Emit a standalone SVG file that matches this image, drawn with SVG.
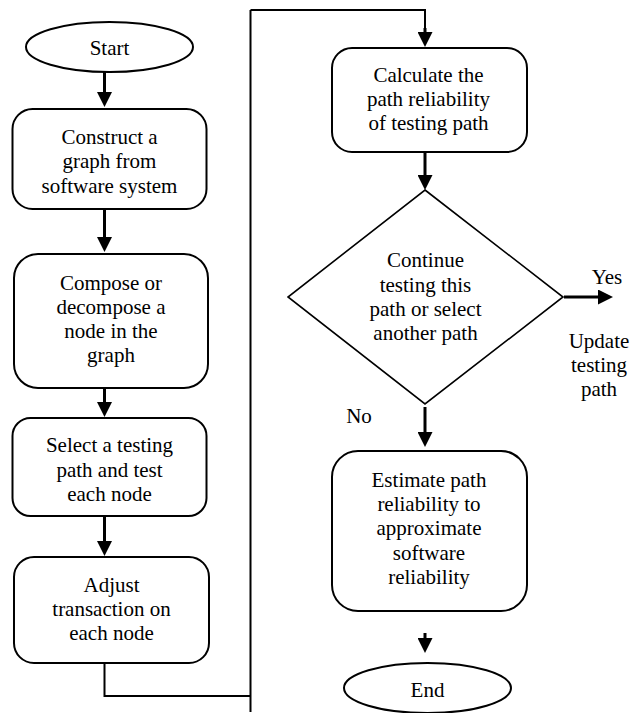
<svg xmlns="http://www.w3.org/2000/svg" width="642" height="713" viewBox="0 0 642 713">
  <style>
    .shape { fill: #fff; stroke: #000; stroke-width: 2; }
    .thin { fill: #fff; stroke: #000; stroke-width: 1.6; }
    .flow { fill: none; stroke: #000; stroke-width: 3; }
    .wire { fill: none; stroke: #000; stroke-width: 2; }
    text { font-family: "Liberation Serif", Tinos, "Times New Roman", Times, "DejaVu Serif", serif; font-size: 21px; fill: #000; text-anchor: middle; }
  </style>
  <defs>
    <marker id="arrow" viewBox="0 0 15 15" markerUnits="userSpaceOnUse" markerWidth="15" markerHeight="15" refX="7" refY="7.5" orient="auto">
      <path d="M0,0 L15,7.5 L0,15 z" fill="#000"/>
    </marker>
  </defs>

  <!-- connectors -->
  <g id="connectors">
    <line class="flow" x1="104.5" y1="72" x2="104.5" y2="99" marker-end="url(#arrow)"/>
    <line class="flow" x1="104.5" y1="209" x2="104.5" y2="244" marker-end="url(#arrow)"/>
    <line class="flow" x1="104.5" y1="388" x2="104.5" y2="409" marker-end="url(#arrow)"/>
    <line class="flow" x1="104.5" y1="516" x2="104.5" y2="548" marker-end="url(#arrow)"/>
    <!-- loop from the left column to the right column -->
    <polyline class="wire" points="104.5,663 104.5,696 250.5,696"/>
    <line class="wire" x1="250.5" y1="712" x2="250.5" y2="10"/>
    <polyline class="wire" points="250.5,10 425,10 425,30"/>
    <line class="flow" x1="425" y1="28" x2="425" y2="39" marker-end="url(#arrow)"/>
    <line class="flow" x1="425" y1="152" x2="425" y2="182" marker-end="url(#arrow)"/>
    <line class="flow" x1="564" y1="297" x2="605" y2="297" marker-end="url(#arrow)"/>
    <line class="flow" x1="425" y1="407" x2="425" y2="439" marker-end="url(#arrow)"/>
    <line class="flow" x1="425" y1="633" x2="425" y2="645" marker-end="url(#arrow)"/>
    <text x="607" y="284">Yes</text>
    <text x="359" y="423">No</text>
  </g>

  <g id="start">
    <ellipse class="shape" cx="109.5" cy="47" rx="83.5" ry="25"/>
    <text x="109.5" y="55">Start</text>
  </g>

  <g id="construct">
    <rect class="shape" x="12.5" y="109" width="194" height="100" rx="20"/>
    <text x="109.5" y="144">Construct a</text>
    <text x="109.5" y="168">graph from</text>
    <text x="109.5" y="193">software system</text>
  </g>

  <g id="compose">
    <rect class="shape" x="14" y="254" width="194" height="134" rx="24"/>
    <text x="111" y="290">Compose or</text>
    <text x="111" y="314">decompose a</text>
    <text x="111" y="338">node in the</text>
    <text x="111" y="362">graph</text>
  </g>

  <g id="select">
    <rect class="shape" x="12.5" y="418" width="194" height="98" rx="18"/>
    <text x="109.5" y="452">Select a testing</text>
    <text x="109.5" y="477">path and test</text>
    <text x="109.5" y="501">each node</text>
  </g>

  <g id="adjust">
    <rect class="shape" x="14" y="557" width="195" height="106" rx="20"/>
    <text x="111.5" y="592">Adjust</text>
    <text x="111.5" y="616">transaction on</text>
    <text x="111.5" y="640">each node</text>
  </g>

  <g id="calculate">
    <rect class="shape" x="332" y="48" width="195" height="104" rx="20"/>
    <text x="428.5" y="82">Calculate the</text>
    <text x="428.5" y="106">path reliability</text>
    <text x="428.5" y="130">of testing path</text>
  </g>

  <g id="decision">
    <polygon class="thin" points="425,190 563,297 425,404 288,297"/>
    <text x="425.5" y="267">Continue</text>
    <text x="425.5" y="292">testing this</text>
    <text x="425.5" y="316">path or select</text>
    <text x="425.5" y="340">another path</text>
  </g>

  <g id="update">
    <text x="599" y="348">Update</text>
    <text x="599" y="372">testing</text>
    <text x="599" y="396">path</text>
  </g>

  <g id="estimate">
    <rect class="shape" x="332" y="451" width="195" height="160" rx="26"/>
    <text x="429" y="487">Estimate path</text>
    <text x="429" y="511">reliability to</text>
    <text x="429" y="535">approximate</text>
    <text x="429" y="560">software</text>
    <text x="429" y="584">reliability</text>
  </g>

  <g id="end">
    <ellipse class="shape" cx="427.5" cy="688" rx="83.5" ry="25"/>
    <text x="427.5" y="697">End</text>
  </g>
</svg>
